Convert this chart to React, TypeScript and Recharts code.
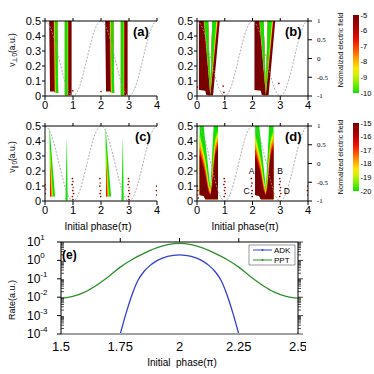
import React from 'react';
import { ComposedChart, Area, Line, Scatter, XAxis, YAxis, BarChart, Bar } from 'recharts';

type Pt = [number, number | null, number | null];
interface Layer { level: number; pts: Pt[] }

const FONT = '"Liberation Sans", Arial, sans-serif';

// ---------- axis ticks ----------
const PHASE_TICKS = [0, 1, 2, 3, 4];
const V_TICKS = [0, 0.1, 0.2, 0.3, 0.4, 0.5];
const FIELD_TICKS = [-1, -0.5, 0, 0.5, 1];
const TOP_BAR_TICKS = [-10, -9, -8, -7, -6, -5];
const BOTTOM_BAR_TICKS = [-20, -19, -18, -17, -16, -15];
const RATE_X_TICKS = [1.5, 1.75, 2, 2.25, 2.5];
const RATE_DECADES = [1e-4, 1e-3, 1e-2, 1e-1, 1, 10];

// ---------- normalized electric field (dashed curve) ----------
const FIELD_PHASE = [0, 0.125, 0.25, 0.375, 0.5, 0.625, 0.75, 0.875, 1, 1.125, 1.25, 1.375, 1.5, 1.625, 1.75, 1.875, 2,
  2.125, 2.25, 2.375, 2.5, 2.625, 2.75, 2.875, 3, 3.125, 3.25, 3.375, 3.5, 3.625, 3.75, 3.875, 4];
const FIELD_VALUE = [1, 0.92, 0.71, 0.38, 0, -0.38, -0.71, -0.92, -1, -0.92, -0.71, -0.38, 0, 0.38, 0.71, 0.92, 1,
  0.92, 0.71, 0.38, 0, -0.38, -0.71, -0.92, -1, -0.92, -0.71, -0.38, 0, 0.38, 0.71, 0.92, 1];

// ---------- panel (a): [phase, v low, v high] ----------
const A_DARK: Pt[] = [[0.15, 0.5, 0.5], [0.18, 0.03, 0.5], [0.44, 0.03, 0.5], [0.47, 0.02, 0.02], [0.6, null, null],
  [0.71, 0.005, 0.5], [0.95, 0.005, 0.5], [1.5, null, null],
  [2.15, 0.5, 0.5], [2.18, 0.03, 0.5], [2.44, 0.03, 0.5], [2.47, 0.02, 0.02], [2.6, null, null],
  [2.71, 0.005, 0.5], [2.95, 0.005, 0.5]];
const A_RED: Pt[] = [[0.3, 0.5, 0.5], [0.33, 0.025, 0.5], [0.44, 0.025, 0.5], [0.47, 0.02, 0.02], [0.6, null, null],
  [0.71, 0.005, 0.5], [0.84, 0.005, 0.5], [1.5, null, null],
  [2.3, 0.5, 0.5], [2.33, 0.025, 0.5], [2.44, 0.025, 0.5], [2.47, 0.02, 0.02], [2.6, null, null],
  [2.71, 0.005, 0.5], [2.84, 0.005, 0.5]];
const A_YELLOW: Pt[] = [[0.325, 0.5, 0.5], [0.355, 0.02, 0.5], [0.44, 0.02, 0.5], [0.47, 0.02, 0.02], [0.6, null, null],
  [0.71, 0.005, 0.5], [0.825, 0.005, 0.5], [1.5, null, null],
  [2.325, 0.5, 0.5], [2.355, 0.02, 0.5], [2.44, 0.02, 0.5], [2.47, 0.02, 0.02], [2.6, null, null],
  [2.71, 0.005, 0.5], [2.825, 0.005, 0.5]];
const A_GREEN: Pt[] = [[0.35, 0.5, 0.5], [0.38, 0.02, 0.5], [0.44, 0.02, 0.5], [0.47, 0.02, 0.02], [0.6, null, null],
  [0.71, 0.005, 0.5], [0.81, 0.005, 0.5], [1.5, null, null],
  [2.35, 0.5, 0.5], [2.38, 0.02, 0.5], [2.44, 0.02, 0.5], [2.47, 0.02, 0.02], [2.6, null, null],
  [2.71, 0.005, 0.5], [2.81, 0.005, 0.5]];

// ---------- panel (b) ----------
const B_DARK: Pt[] = [[0.07, 0.04, 0.5], [0.3, 0.035, 0.5], [0.33, 0.008, 0.5], [0.4, 0.005, 0.5], [0.48, 0.005, 0.02],
  [0.55, 0.005, 0.5], [0.58, 0.005, 0.5], [0.82, 0.5, 0.5], [1.5, null, null],
  [2.07, 0.04, 0.5], [2.3, 0.035, 0.5], [2.33, 0.008, 0.5], [2.4, 0.005, 0.5], [2.48, 0.005, 0.02],
  [2.55, 0.005, 0.5], [2.58, 0.005, 0.5], [2.82, 0.5, 0.5]];
const B_RED: Pt[] = [[0.23, 0.5, 0.5], [0.4, 0.16, 0.5], [0.48, 0.003, 0.02], [0.55, 0.13, 0.5], [0.76, 0.5, 0.5], [1.5, null, null],
  [2.23, 0.5, 0.5], [2.4, 0.16, 0.5], [2.48, 0.003, 0.02], [2.55, 0.13, 0.5], [2.76, 0.5, 0.5]];
const B_YELLOW: Pt[] = [[0.25, 0.5, 0.5], [0.4, 0.18, 0.5], [0.48, 0.006, 0.02], [0.55, 0.14, 0.5], [0.735, 0.5, 0.5], [1.5, null, null],
  [2.25, 0.5, 0.5], [2.4, 0.18, 0.5], [2.48, 0.006, 0.02], [2.55, 0.14, 0.5], [2.735, 0.5, 0.5]];
const B_GREEN: Pt[] = [[0.265, 0.5, 0.5], [0.4, 0.19, 0.5], [0.48, 0.01, 0.02], [0.55, 0.17, 0.5], [0.7, 0.5, 0.5], [1.5, null, null],
  [2.265, 0.5, 0.5], [2.4, 0.19, 0.5], [2.48, 0.01, 0.02], [2.55, 0.17, 0.5], [2.7, 0.5, 0.5]];

// ---------- panel (c) ----------
const C_GREEN: Pt[] = [[0.16, 0.5, 0.5], [0.18, 0.03, 0.45], [0.36, 0.03, 0.03], [0.5, null, null],
  [0.73, 0.003, 0.003], [0.78, 0.003, 0.43], [0.81, 0.003, 0.003], [1.5, null, null],
  [2.16, 0.5, 0.5], [2.18, 0.03, 0.45], [2.36, 0.03, 0.03], [2.5, null, null],
  [2.73, 0.003, 0.003], [2.78, 0.003, 0.43], [2.81, 0.003, 0.003]];
const C_YELLOW: Pt[] = [[0.175, 0.36, 0.36], [0.18, 0.03, 0.35], [0.28, 0.03, 0.03], [1.5, null, null],
  [2.175, 0.36, 0.36], [2.18, 0.03, 0.35], [2.28, 0.03, 0.03]];
const C_ORANGE: Pt[] = [[0.177, 0.3, 0.3], [0.18, 0.03, 0.29], [0.25, 0.03, 0.03], [1.5, null, null],
  [2.177, 0.3, 0.3], [2.18, 0.03, 0.29], [2.25, 0.03, 0.03]];
const C_RED: Pt[] = [[0.178, 0.24, 0.24], [0.18, 0.03, 0.23], [0.22, 0.03, 0.03], [1.5, null, null],
  [2.178, 0.24, 0.24], [2.18, 0.03, 0.23], [2.22, 0.03, 0.03]];

// ---------- panel (d): shared phase grid, floor and top of each level ----------
const D_X = [0.096, 0.24, 0.3, 0.4, 0.48, 0.54, 0.6, 0.66, 0.757, 1.4,
  2.096, 2.24, 2.3, 2.4, 2.48, 2.54, 2.6, 2.66, 2.757];
const D_FLOOR = [0.04, 0.035, 0.012, 0.012, 0.012, 0.012, 0.012, 0.012, 0.012, null,
  0.04, 0.035, 0.012, 0.012, 0.012, 0.012, 0.012, 0.012, 0.012];
const D_TOP_GREEN = [0.5, 0.5, 0.4, 0.23, 0.09, 0.29, 0.5, 0.5, 0.5, null, 0.5, 0.5, 0.4, 0.23, 0.09, 0.29, 0.5, 0.5, 0.5];
const D_TOP_LIME = [0.45, 0.33, 0.28, 0.15, 0.07, 0.17, 0.33, 0.42, 0.47, null, 0.45, 0.33, 0.28, 0.15, 0.07, 0.17, 0.33, 0.42, 0.47];
const D_TOP_YELLOW = [0.43, 0.31, 0.26, 0.13, 0.06, 0.15, 0.3, 0.4, 0.45, null, 0.43, 0.31, 0.26, 0.13, 0.06, 0.15, 0.3, 0.4, 0.45];
const D_TOP_ORANGE = [0.39, 0.28, 0.23, 0.11, 0.05, 0.13, 0.27, 0.37, 0.42, null, 0.39, 0.28, 0.23, 0.11, 0.05, 0.13, 0.27, 0.37, 0.42];
const D_TOP_RED = [0.35, 0.25, 0.2, 0.09, 0.04, 0.11, 0.24, 0.34, 0.39, null, 0.35, 0.25, 0.2, 0.09, 0.04, 0.11, 0.24, 0.34, 0.39];
const D_TOP_DARK = [0.31, 0.22, 0.17, 0.07, 0.035, 0.09, 0.21, 0.31, 0.36, null, 0.31, 0.22, 0.17, 0.07, 0.035, 0.09, 0.21, 0.31, 0.36];

// ---------- scattered trajectories: [phase, v, level] ----------
const SPECKS_A: [number, number, number][] = [[0.99, 0.035, -5.5], [2.0, 0.03, -6], [0.86, 0.03, -5]];
const SPECKS_B: [number, number, number][] = [[0.94, 0.066, -6], [0.97, 0.024, -5.5], [2.95, 0.084, -6], [0.01, 0.06, -5]];
const SPECKS_C: [number, number, number][] = [
  [0.01, 0.11, -15], [0.02, 0.08, -16], [0.01, 0.05, -15],
  [0.98, 0.15, -15], [1.0, 0.13, -16], [0.97, 0.11, -15], [1.01, 0.09, -17], [0.99, 0.07, -15], [1.02, 0.05, -15], [0.98, 0.03, -16], [1.0, 0.01, -15],
  [1.96, 0.15, -15], [1.98, 0.12, -17], [1.96, 0.1, -15], [1.99, 0.07, -16], [1.97, 0.05, -15], [1.99, 0.03, -15],
  [2.98, 0.15, -15], [3.0, 0.13, -16], [2.97, 0.11, -15], [3.01, 0.09, -17], [2.99, 0.07, -15], [3.02, 0.05, -15], [2.98, 0.03, -16], [3.0, 0.01, -15],
  [3.99, 0.1, -15], [3.98, 0.07, -16], [3.99, 0.04, -15]];
const SPECKS_D: [number, number, number][] = [
  [0.01, 0.1, -15], [0.03, 0.07, -15], [0.02, 0.04, -16], [0.04, 0.02, -15],
  [0.98, 0.15, -15], [1.0, 0.13, -16], [0.97, 0.11, -15], [1.01, 0.09, -15], [0.99, 0.07, -15], [1.02, 0.05, -16], [0.98, 0.03, -15],
  [1.96, 0.15, -15], [1.98, 0.12, -15], [1.96, 0.1, -16], [1.99, 0.07, -15], [1.97, 0.05, -15], [1.99, 0.03, -15],
  [2.98, 0.15, -15], [3.0, 0.13, -16], [2.97, 0.11, -15], [3.01, 0.09, -15], [2.99, 0.07, -15], [3.02, 0.05, -16], [2.98, 0.03, -15],
  [3.99, 0.1, -15], [3.98, 0.07, -15], [3.99, 0.04, -16]];
const D_LETTERS: [number, number, string][] = [[1.97, 0.2, 'A'], [2.99, 0.2, 'B'], [1.79, 0.069, 'C'], [3.24, 0.069, 'D']];

// ---------- panel (e): ionization rates ----------
const PPT_PHASE = [1.5, 1.55, 1.6, 1.65, 1.7, 1.75, 1.8, 1.85, 1.9, 1.95, 2, 2.05, 2.1, 2.15, 2.2, 2.25, 2.3, 2.35, 2.4, 2.45, 2.5];
const PPT_RATE = [8.9e-3, 1.12e-2, 1.9e-2, 4.5e-2, 0.13, 0.43, 1.12, 2.4, 4.6, 7.1, 8.5, 7.1, 4.6, 2.4, 1.12, 0.43, 0.13, 4.5e-2, 1.9e-2, 1.12e-2, 8.9e-3];
const ADK_PHASE = [1.75, 1.775, 1.8, 1.825, 1.85, 1.875, 1.9, 1.925, 1.95, 1.975, 2, 2.025, 2.05, 2.075, 2.1, 2.125, 2.15, 2.175, 2.2, 2.225, 2.25];
const ADK_RATE = [1.0e-4, 1.4e-3, 1.4e-2, 8.3e-2, 0.25, 0.52, 0.89, 1.29, 1.66, 1.9, 2.0, 1.9, 1.66, 1.29, 0.89, 0.52, 0.25, 8.3e-2, 1.4e-2, 1.4e-3, 1.0e-4];
const LEGEND_ITEMS = [{ name: 'ADK', color: '#3340d0' }, { name: 'PPT', color: '#2e8f2e' }];

// ---------- colour map (log field level) ----------
const CMAP: [number, string][] = [
  [0, '#10e000'], [0.12, '#7cf000'], [0.24, '#d4f200'], [0.32, '#ffe600'],
  [0.44, '#ffa000'], [0.56, '#ff5000'], [0.68, '#ee1000'], [0.82, '#b40000'], [1, '#780000'],
];
const rgb = (c: string) => [1, 3, 5].map(i => parseInt(c.slice(i, i + 2), 16));
function colorAt(t: number) {
  const u = Math.max(0, Math.min(1, t));
  for (let i = 1; i < CMAP.length; i++) {
    const [t1, c1] = CMAP[i];
    if (u <= t1) {
      const [t0, c0] = CMAP[i - 1];
      const k = (u - t0) / (t1 - t0);
      const a = rgb(c0);
      const b = rgb(c1);
      return `rgb(${a.map((v, j) => Math.round(v + (b[j] - v) * k)).join(',')})`;
    }
  }
  return CMAP[CMAP.length - 1][1];
}
const levelColor = (level: number, ticks: number[]) =>
  colorAt((level - ticks[0]) / (ticks[ticks.length - 1] - ticks[0]));

const dLayer = (level: number, top: (number | null)[]): Layer => ({
  level,
  pts: D_X.map((x, i) => [x, D_FLOOR[i], top[i]] as Pt),
});

const A_LAYERS: Layer[] = [
  { level: -5, pts: A_DARK }, { level: -6.5, pts: A_RED }, { level: -8.4, pts: A_YELLOW }, { level: -10, pts: A_GREEN },
];
const B_LAYERS: Layer[] = [
  { level: -5, pts: B_DARK }, { level: -6.5, pts: B_RED }, { level: -8.4, pts: B_YELLOW }, { level: -10, pts: B_GREEN },
];
const C_LAYERS: Layer[] = [
  { level: -20, pts: C_GREEN }, { level: -18.6, pts: C_YELLOW }, { level: -17.6, pts: C_ORANGE }, { level: -16.6, pts: C_RED },
];
const D_LAYERS: Layer[] = [
  dLayer(-20, D_TOP_GREEN), dLayer(-19.2, D_TOP_LIME), dLayer(-18.6, D_TOP_YELLOW),
  dLayer(-17.6, D_TOP_ORANGE), dLayer(-16.6, D_TOP_RED), dLayer(-15, D_TOP_DARK),
];

const NoTick = () => <g />;

interface PanelProps {
  x: number; y: number; w: number;
  layers: Layer[]; scale: number[];
  specks: [number, number, number][];
  letters?: [number, number, string][];
  fieldLabels: boolean;
}

const PhasePanel: React.FC<PanelProps> = ({ x, y, w, layers, scale, specks, letters, fieldLabels }) => {
  const rightW = fieldLabels ? 30 : 6;
  const field = FIELD_PHASE.map((p, i) => ({ x: p, f: FIELD_VALUE[i] }));
  const dots = specks.map(([sx, sy, lv]) => ({ x: sx, y: sy, lv }));
  return (
    <div style={{ position: 'absolute', left: x - 45, top: y - 5 }}>
      <ComposedChart width={45 + w + rightW} height={100} margin={{ top: 0, right: 0, bottom: 0, left: 0 }}>
        <XAxis xAxisId="b" dataKey="x" type="number" domain={[0, 4]} ticks={PHASE_TICKS} allowDataOverflow
          height={20} tickSize={4} tickMargin={1} interval={0} stroke="#000"
          tick={{ fill: '#000', fontSize: 11 }} />
        <XAxis xAxisId="t" orientation="top" dataKey="x" type="number" domain={[0, 4]} ticks={PHASE_TICKS}
          allowDataOverflow height={5} tickSize={3} tick={NoTick} stroke="#000" />
        <YAxis yAxisId="v" type="number" domain={[0, 0.5]} ticks={V_TICKS} allowDataOverflow width={45}
          tickSize={3} tickMargin={1} interval={0} stroke="#000" tick={{ fill: '#000', fontSize: 11 }} />
        {!fieldLabels && (
          <YAxis yAxisId="m" orientation="right" type="number" domain={[0, 0.5]} ticks={V_TICKS}
            allowDataOverflow width={6} tickSize={3} tick={NoTick} stroke="#000" />
        )}
        <YAxis yAxisId="f" orientation="right" type="number" domain={[-1, 1]} ticks={FIELD_TICKS}
          allowDataOverflow width={30} tickSize={4} tickMargin={5} interval={0} stroke="#000" hide={!fieldLabels}
          tick={{ fill: '#000', fontSize: 7, fontFamily: '"Liberation Serif", serif' }} />
        <Line xAxisId="b" yAxisId="f" data={field} dataKey="f" type="monotone" stroke="#9a9a9a"
          strokeWidth={0.8} strokeDasharray="2 1.5" dot={false} activeDot={false} isAnimationActive={false} />
        {layers.map((layer, i) => (
          <Area key={i} xAxisId="b" yAxisId="v" dataKey="v" type="linear"
            data={layer.pts.map(([px, lo, hi]) => ({ x: px, v: lo == null ? null : [lo, hi] }))}
            stroke="none" fill={levelColor(layer.level, scale)} fillOpacity={1}
            dot={false} activeDot={false} isAnimationActive={false} />
        ))}
        <Scatter xAxisId="b" yAxisId="v" data={dots} dataKey="y" isAnimationActive={false}
          shape={(p: any) => <circle cx={p.cx} cy={p.cy} r={0.85} fill={levelColor(p.payload.lv, scale)} />} />
        {letters && (
          <Scatter xAxisId="b" yAxisId="v" dataKey="y" isAnimationActive={false}
            data={letters.map(([lx, ly, t]) => ({ x: lx, y: ly, t }))}
            shape={(p: any) => (
              <text x={p.cx} y={p.cy + 3} textAnchor="middle" fontSize={8.5} fill="#000">{p.payload.t}</text>
            )} />
        )}
      </ComposedChart>
    </div>
  );
};

const ColorBar: React.FC<{ x: number; y: number; h: number; ticks: number[]; id: string }> = ({ x, y, h, ticks, id }) => {
  const lo = ticks[0];
  const hi = ticks[ticks.length - 1];
  return (
    <div style={{ position: 'absolute', left: x, top: y - 6 }}>
      <BarChart width={6 + 15} height={h + 12} data={[{ k: 'c', span: [lo, hi] }]}
        margin={{ top: 6, bottom: 6, left: 0, right: 0 }} barCategoryGap={0}>
        <defs>
          <linearGradient id={id} x1="0" y1="0" x2="0" y2="1">
            {[...CMAP].reverse().map(([t, c]) => <stop key={t} offset={1 - t} stopColor={c} />)}
          </linearGradient>
        </defs>
        <XAxis dataKey="k" hide />
        <YAxis orientation="right" type="number" domain={[lo, hi]} ticks={ticks} width={15} axisLine={false}
          tickLine={false} tickSize={0} tickMargin={1.5} interval={0} tick={{ fill: '#000', fontSize: 7.5 }} />
        <Bar dataKey="span" fill={`url(#${id})`} isAnimationActive={false} />
      </BarChart>
    </div>
  );
};

const isDecade = (v: number) => RATE_DECADES.some(d => Math.abs(v / d - 1) < 1e-6);
const RATE_TICKS = RATE_DECADES.flatMap((d, i) =>
  i === RATE_DECADES.length - 1 ? [d] : [d, 2 * d, 3 * d, 4 * d, 5 * d, 6 * d, 7 * d, 8 * d, 9 * d]);

const RateLeftTick = (p: any) => {
  const v = p.payload.value;
  if (!isDecade(v)) return <line x1={p.x} x2={p.x + 3} y1={p.y} y2={p.y} stroke="#000" strokeWidth={0.7} />;
  const exp = Math.round(Math.log10(v));
  return (
    <g>
      <line x1={p.x - 4} x2={p.x} y1={p.y} y2={p.y} stroke="#000" />
      <text x={p.x - 34} y={p.y + 4} fontSize={12} fill="#000">
        10<tspan dy={-6} fontSize={8}>{exp}</tspan>
      </text>
    </g>
  );
};
const RateRightTick = (p: any) => (
  <line x1={p.x} x2={p.x + (isDecade(p.payload.value) ? 5 : 3)} y1={p.y} y2={p.y} stroke="#000" strokeWidth={0.7} />
);

const RatePanel: React.FC = () => {
  const ppt = PPT_PHASE.map((x, i) => ({ x, r: PPT_RATE[i] }));
  const adk = ADK_PHASE.map((x, i) => ({ x, r: ADK_RATE[i] }));
  return (
    <div style={{ position: 'absolute', left: 0, top: 228 }}>
      <ComposedChart width={61 + 237 + 8} height={14 + 92 + 22} margin={{ top: 8, right: 0, bottom: 0, left: 0 }}>
        <XAxis xAxisId="b" dataKey="x" type="number" domain={[1.5, 2.5]} ticks={RATE_X_TICKS} allowDataOverflow
          height={22} tickLine={false} tickSize={4} tickMargin={4} interval={0}
          axisLine={{ stroke: '#a0a0a0', strokeWidth: 2 }} tick={{ fill: '#000', fontSize: 13 }} />
        <XAxis xAxisId="t" orientation="top" dataKey="x" type="number" domain={[1.5, 2.5]} ticks={[1.75, 2, 2.25]}
          allowDataOverflow height={6} tickSize={4} tick={NoTick} stroke="#000" />
        <YAxis yAxisId="l" type="number" scale="log" domain={[1e-4, 10]} ticks={RATE_TICKS} allowDataOverflow
          width={61} tickSize={0} tickMargin={0} tickLine={false} interval={0} stroke="#000" tick={RateLeftTick} />
        <YAxis yAxisId="r" orientation="right" type="number" scale="log" domain={[1e-4, 10]} ticks={RATE_TICKS}
          allowDataOverflow width={8} tickSize={0} tickMargin={0} tickLine={false} interval={0} stroke="#000"
          tick={RateRightTick} />
        <Line xAxisId="b" yAxisId="l" data={ppt} dataKey="r" type="monotone" stroke={LEGEND_ITEMS[1].color}
          strokeWidth={1.3} dot={false} activeDot={false} isAnimationActive={false} />
        <Line xAxisId="b" yAxisId="l" data={adk} dataKey="r" type="monotone" stroke={LEGEND_ITEMS[0].color}
          strokeWidth={1.3} dot={false} activeDot={false} isAnimationActive={false} />
      </ComposedChart>
    </div>
  );
};

const Labels: React.FC = () => (
  <svg width={374} height={374} style={{ position: 'absolute', left: 0, top: 0, pointerEvents: 'none' }}
    fontFamily={FONT} fill="#000">
    <text transform="translate(15,50) rotate(-90)" textAnchor="middle" fontSize={8.5}>
      v<tspan fontSize={6.5} dy={2}>⊥0</tspan><tspan dy={-2}>(a.u.)</tspan>
    </text>
    <text transform="translate(15,157) rotate(-90)" textAnchor="middle" fontSize={8.5}>
      v<tspan fontSize={6.5} dy={2}>∥0</tspan><tspan dy={-2}>(a.u.)</tspan>
    </text>
    <text transform="translate(343,50) rotate(-90)" textAnchor="middle" fontSize={7}>Normalized electric field</text>
    <text transform="translate(343,157) rotate(-90)" textAnchor="middle" fontSize={7}>Normalized electric field</text>
    <text x={133} y={36} fontSize={13} fontWeight="bold">(a)</text>
    <text x={285} y={36} fontSize={13} fontWeight="bold">(b)</text>
    <text x={135} y={141} fontSize={13} fontWeight="bold">(c)</text>
    <text x={285} y={141} fontSize={13} fontWeight="bold">(d)</text>
    <text x={98} y={229.5} fontSize={10} textAnchor="middle">Initial phase(π)</text>
    <text x={245} y={229.5} fontSize={10} textAnchor="middle">Initial phase(π)</text>
    <text x={62} y={259} fontSize={12} fontWeight="bold">(e)</text>
    <text transform="translate(15,300) rotate(-90)" textAnchor="middle" fontSize={9}>Rate(a.u.)</text>
    <text x={182} y={366} fontSize={10} textAnchor="middle" style={{ whiteSpace: 'pre' }}>Initial  phase(π)</text>
    <rect x={249} y={245} width={46} height={20} fill="#fff" stroke="#555" strokeWidth={0.6} />
    {LEGEND_ITEMS.map((item, i) => (
      <g key={item.name}>
        <line x1={253} x2={272} y1={250 + i * 10} y2={250 + i * 10} stroke={item.color} strokeWidth={1} />
        <circle cx={262.5} cy={250 + i * 10} r={1} fill={item.color} />
        <text x={274} y={253 + i * 10} fontSize={8}>{item.name}</text>
      </g>
    ))}
  </svg>
);

export default function App() {
  return (
    <div style={{ position: 'fixed', left: 0, top: 0, width: 374, height: 374, background: '#fff', fontFamily: FONT }}>
      <PhasePanel x={45} y={21} w={112} layers={A_LAYERS} scale={TOP_BAR_TICKS} specks={SPECKS_A} fieldLabels={false} />
      <PhasePanel x={197} y={21} w={111} layers={B_LAYERS} scale={TOP_BAR_TICKS} specks={SPECKS_B} fieldLabels />
      <PhasePanel x={45} y={126} w={112} layers={C_LAYERS} scale={BOTTOM_BAR_TICKS} specks={SPECKS_C} fieldLabels={false} />
      <PhasePanel x={197} y={126} w={111} layers={D_LAYERS} scale={BOTTOM_BAR_TICKS} specks={SPECKS_D}
        letters={D_LETTERS} fieldLabels />
      <ColorBar x={353} y={15} h={78} ticks={TOP_BAR_TICKS} id="cbTop" />
      <ColorBar x={353} y={123} h={68} ticks={BOTTOM_BAR_TICKS} id="cbBottom" />
      <RatePanel />
      <Labels />
    </div>
  );
}
